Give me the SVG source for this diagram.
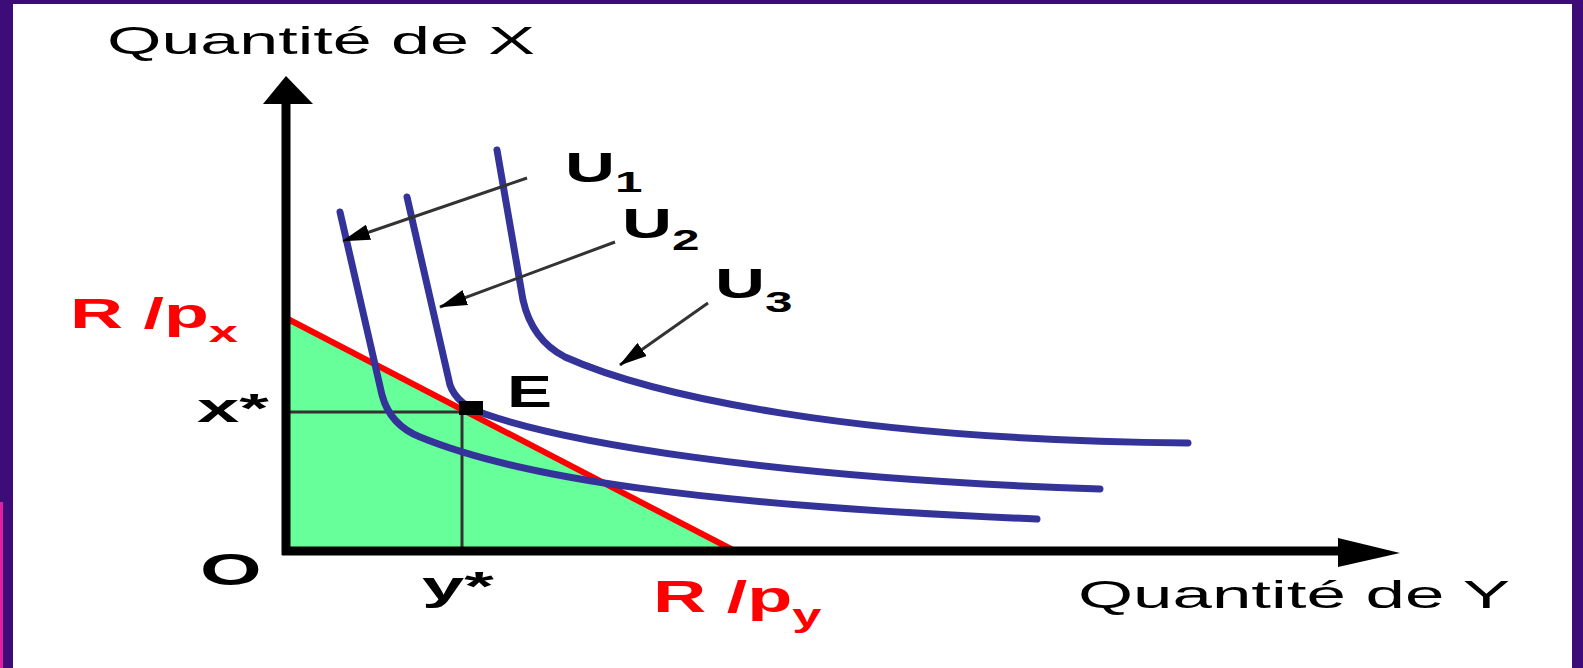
<svg xmlns="http://www.w3.org/2000/svg" width="1583" height="668" viewBox="0 0 1583 668">
<style>
.reg{font-family:"Liberation Sans",Arial,sans-serif;fill:#000}
.bold{font-family:"Liberation Sans",Arial,sans-serif;font-weight:bold;fill:#000}
.red{fill:#ff0000}
.curve{fill:none;stroke:#333399;stroke-width:7;stroke-linecap:round}
.ptr{fill:none;stroke:#333;stroke-width:3}
.axis{stroke:#000;stroke-width:9;fill:none}
.guide{stroke:#333;stroke-width:3}
</style>
<defs>
<marker id="ah" viewBox="0 0 28 16" refX="27" refY="8" markerWidth="28" markerHeight="16" markerUnits="userSpaceOnUse" orient="auto">
<path d="M0,0 L28,8 L0,16 Z" fill="#000"/>
</marker>
</defs>
<rect x="0" y="0" width="1583" height="668" fill="#3d0c78"/>
<rect x="0" y="502" width="3" height="166" fill="#e020a0"/>
<rect x="13" y="4" width="1559" height="664" fill="#ffffff"/>

<g id="budget-area">
<polygon points="290,319 733,550 290,550" fill="#66ff99"/>
</g>
<g id="guides">
<line x1="290" y1="412" x2="462" y2="412" class="guide"/>
<line x1="462" y1="412" x2="462" y2="549" class="guide"/>
</g>
<g id="budget-line">
<line x1="284" y1="317" x2="733" y2="550" stroke="#ff0000" stroke-width="6"/>
</g>
<g id="axes">
<line x1="286" y1="100" x2="286" y2="555" class="axis"/>
<line x1="282" y1="551" x2="1345" y2="551" class="axis"/>
<polygon points="286,76 313,104 263,104" fill="#000"/>
<polygon points="1400,553 1338,538 1338,567" fill="#000"/>
</g>
<g id="curve-U1">
<path class="curve" d="M340,212 L382,395 Q390,425 420,437 C520,478 700,505 1037,519"/>
</g>
<g id="curve-U2">
<path class="curve" d="M407,197 L450,385 Q457,405 485,414 C560,440 760,478 1100,489"/>
</g>
<g id="curve-U3">
<path class="curve" d="M497,150 L523,300 Q532,340 565,357 C650,395 850,440 1188,443"/>
</g>
<g id="point-E">
<rect x="459" y="401" width="24" height="14" fill="#000"/>
</g>
<g id="connectors">
<line x1="527" y1="178" x2="343" y2="241" class="ptr" marker-end="url(#ah)"/>
<line x1="615" y1="242" x2="440" y2="307" class="ptr" marker-end="url(#ah)"/>
<line x1="708" y1="303" x2="620" y2="365" class="ptr" marker-end="url(#ah)"/>
</g>
<g id="labels">
<text class="reg" x="107" y="54" font-size="39" textLength="428" lengthAdjust="spacingAndGlyphs">Quantité de X</text>
<text class="reg" x="1078" y="608" font-size="38" textLength="432" lengthAdjust="spacingAndGlyphs">Quantité de Y</text>
<text class="bold red" transform="translate(70,328) scale(1.75,1)" font-size="42">R /p<tspan font-size="30" dy="14">x</tspan></text>
<text class="bold red" transform="translate(653,612) scale(1.64,1)" font-size="45">R /p<tspan font-size="32" dy="14">y</tspan></text>
<text class="bold" transform="translate(200,585) scale(1.8,1)" font-size="44">O</text>
<text class="bold" transform="translate(197,422) scale(1.9,1)" font-size="40">x*</text>
<text class="bold" transform="translate(422,600) scale(1.9,1)" font-size="40">y*</text>
<text class="bold" transform="translate(507,407) scale(1.5,1)" font-size="45">E</text>
<text class="bold" transform="translate(565,182) scale(1.65,1)" font-size="42">U<tspan font-size="30" dy="10">1</tspan></text>
<text class="bold" transform="translate(622,238) scale(1.65,1)" font-size="42">U<tspan font-size="30" dy="12">2</tspan></text>
<text class="bold" transform="translate(715,298) scale(1.65,1)" font-size="42">U<tspan font-size="30" dy="14">3</tspan></text>
</g>
</svg>
